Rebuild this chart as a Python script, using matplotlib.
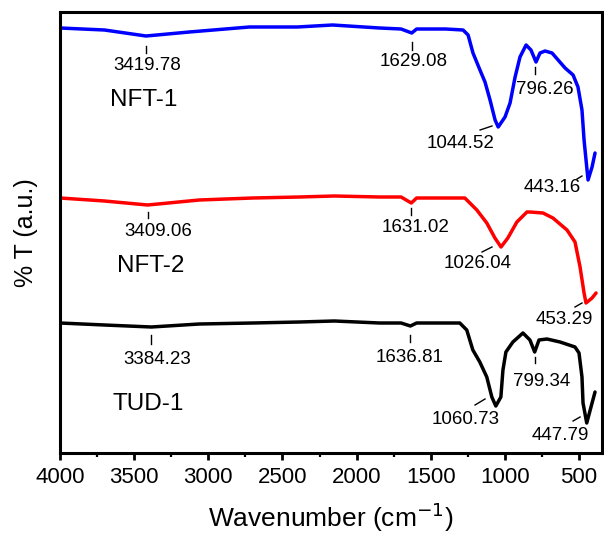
import matplotlib
matplotlib.use("Agg")
import matplotlib.pyplot as plt
from matplotlib.ticker import MultipleLocator

plt.rcParams['font.family'] = ['Liberation Sans', 'DejaVu Sans']

# ---- data (arbitrary transmittance units, offset) ----
nft1_wn = [4000, 3700, 3420, 3128, 2723, 2400, 2162, 1845, 1700, 1628, 1595, 1400, 1282, 1248,
           1215, 1168, 1134, 1100, 1066, 1045, 999, 965, 931, 898, 857, 824, 790, 763, 729,
           682, 641, 594, 540, 507, 480, 466, 446, 439, 412, 392]
nft1_t = [425, 423, 417, 421, 426, 426, 428, 425, 424, 420, 424, 424, 423, 418,
          400, 383, 371, 353, 333, 326, 336, 350, 376, 396, 408, 403, 391, 400, 402,
          400, 393, 385, 378, 366, 343, 313, 283, 273, 286, 300]

nft2_wn = [4000, 3700, 3409, 3061, 2700, 2385, 2150, 1845, 1700, 1631, 1595, 1400, 1270, 1189,
           1122, 1067, 1026, 980, 919, 851, 831, 743, 676, 581, 527, 493, 466, 453, 412, 385]
nft2_t = [255, 252, 248, 253, 255, 256, 257, 256, 256, 250, 255, 255, 255, 243,
          230, 215, 206, 215, 231, 241, 241, 240, 235, 223, 211, 186, 160, 150, 155, 160]

tud1_wn = [4000, 3700, 3384, 3061, 2700, 2385, 2150, 1845, 1700, 1637, 1595, 1400, 1304, 1257,
           1216, 1169, 1122, 1088, 1061, 1027, 1013, 993, 946, 878, 831, 799, 770, 716, 628,
           527, 500, 480, 473, 448, 412, 392]
tud1_t = [130, 128, 126, 129, 130, 131, 132, 130, 130, 127, 130, 130, 130, 123,
          103, 91, 76, 56, 47, 56, 83, 101, 111, 120, 113, 101, 113, 114, 111,
          106, 100, 76, 50, 30, 50, 61]

sample_names = ["NFT-1", "NFT-2", "TUD-1"]
colors = ["#0000ff", "#ff0000", "#000000"]

# peak labels
nft1_peaks = ["3419.78", "1629.08", "796.26", "1044.52", "443.16"]
nft2_peaks = ["3409.06", "1631.02", "1026.04", "453.29"]
tud1_peaks = ["3384.23", "1636.81", "799.34", "1060.73", "447.79"]

xticks = [4000, 3500, 3000, 2500, 2000, 1500, 1000, 500]

# ---- figure ----
fig = plt.figure(figsize=(6.04, 5.36), dpi=100)
ax = fig.add_axes([60/604, (536-453)/536, 542/604, (453-12)/536])

series = [(nft1_wn, nft1_t), (nft2_wn, nft2_t), (tud1_wn, tud1_t)]
for (wn, t), c in zip(series, colors):
    ax.plot(wn, t, color=c, lw=2.5, solid_joinstyle='round', solid_capstyle='round')

ax.set_xlim(4000, 345)
ax.set_ylim(0, 441)
ax.set_xticks(xticks)
ax.set_xticklabels([str(v) for v in xticks])
ax.xaxis.set_minor_locator(MultipleLocator(250))
ax.set_yticks([])
ax.tick_params(axis='x', which='major', direction='out', length=5, width=2, labelsize=16, pad=5)
ax.tick_params(axis='x', which='minor', direction='out', length=3, width=1.6)
for s in ax.spines.values():
    s.set_linewidth(2.2)

ax.set_xlabel("Wavenumber (cm$^{-1}$)", fontsize=19, labelpad=9)
ax.set_ylabel("% T (a.u.)", fontsize=18, labelpad=16)

afs = 13.5
# vertical marks: (label, x_mark, x_text, y_text, y0, y1)
vmarks = [
    (nft1_peaks[0], 3420, 3413, 388, 400, 407),
    (nft1_peaks[1], 1629, 1613, 391, 403, 411),
    (nft1_peaks[2], 796, 729, 363, 379, 386),
    (nft2_peaks[0], 3409, 3339, 221, 235, 241),
    (nft2_peaks[1], 1631, 1599, 225, 238, 245),
    (tud1_peaks[0], 3384, 3346, 93, 109, 118),
    (tud1_peaks[1], 1637, 1640, 95, 111, 118),
    (tud1_peaks[2], 799, 749, 71, 90, 96),
]
for lab, xm, xt, yt, y0, y1 in vmarks:
    ax.plot([xm, xm], [y0, y1], color='black', lw=1)
    ax.text(xt, yt, lab, fontsize=afs, ha='center', va='center')

# diagonal leaders: (label, x_text, y_text, x0, y0, x1, y1)
dmarks = [
    (nft1_peaks[3], 1296, 310, 1167, 323, 1087, 327),
    (nft1_peaks[4], 682, 265, 513, 274, 480, 277),
    (nft2_peaks[2], 1181, 190, 1154, 201, 1087, 206),
    (nft2_peaks[3], 601, 133, 527, 146, 480, 150),
    (tud1_peaks[3], 1262, 34, 1201, 48, 1134, 54),
    (tud1_peaks[4], 628, 18, 540, 32, 493, 36),
]
for lab, xt, yt, x0, y0, x1, y1 in dmarks:
    ax.plot([x0, x1], [y0, y1], color='black', lw=1)
    ax.text(xt, yt, lab, fontsize=afs, ha='center', va='center')

label_pos = [(3434, 353), (3386, 187), (3407, 49)]
for name, (xx, yy) in zip(sample_names, label_pos):
    ax.text(xx, yy, name, fontsize=17.5, ha='center', va='center')

fig.savefig("out.png", dpi=100)
